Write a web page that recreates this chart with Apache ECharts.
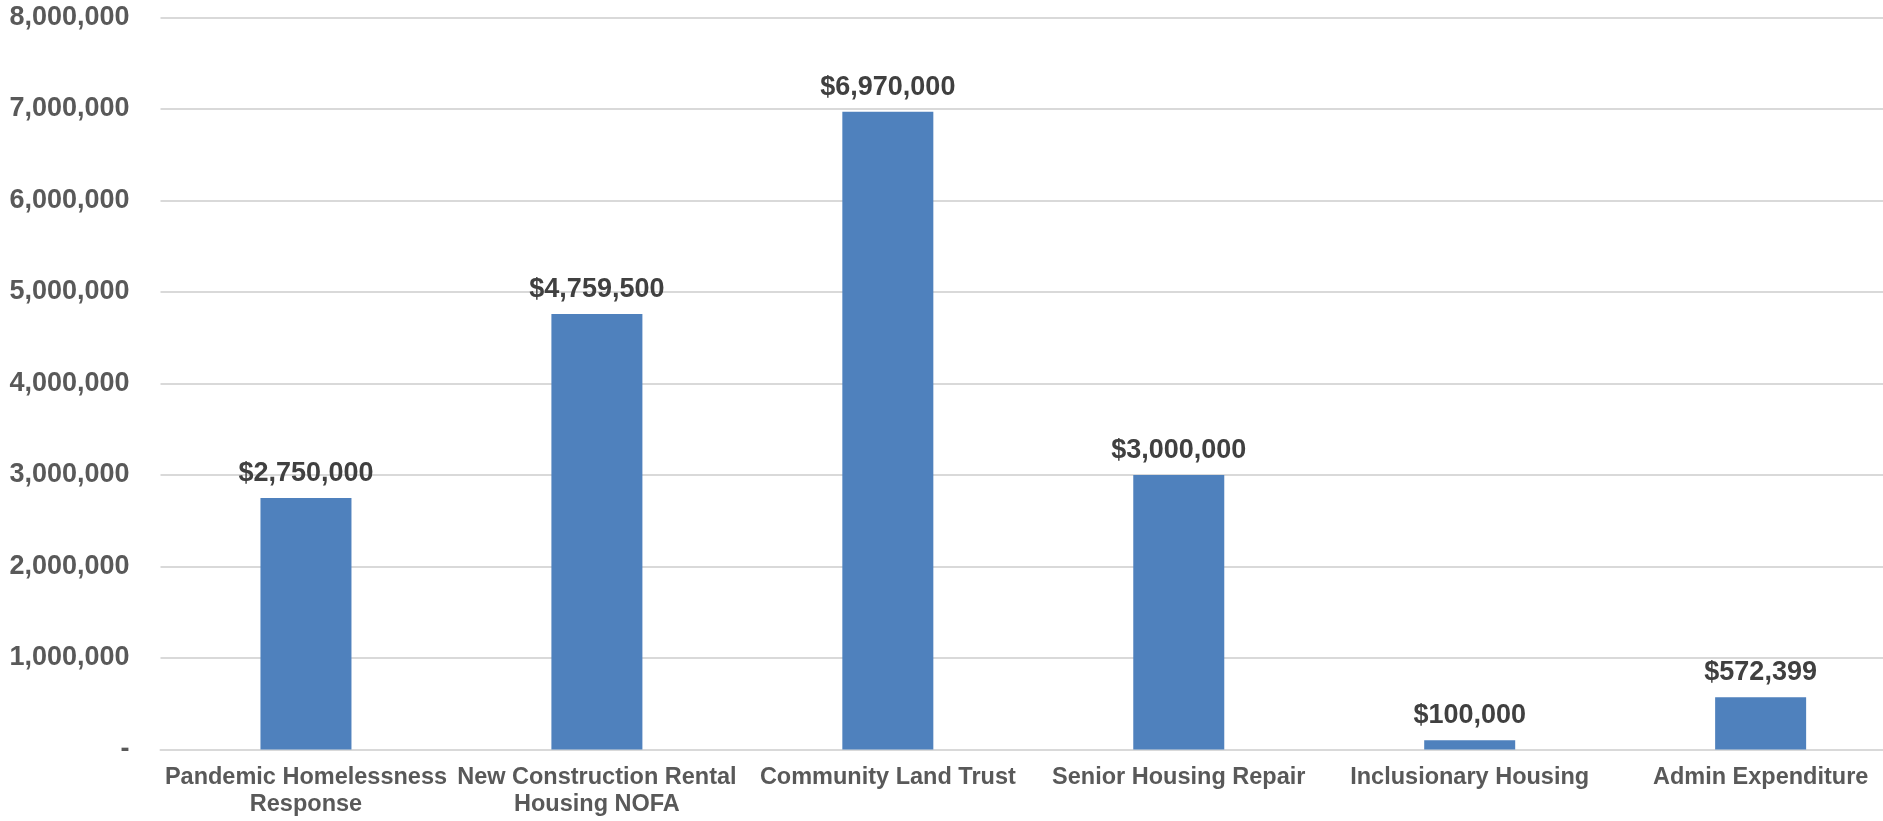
<!DOCTYPE html>
<html>
<head>
<meta charset="utf-8">
<script src="https://cdn.jsdelivr.net/npm/echarts@6/dist/echarts.min.js"></script>
<style>
  html, body { margin: 0; padding: 0; background: #ffffff; }
  #chart { width: 1883px; height: 821px; }
</style>
</head>
<body>
<div id="chart"></div>
<script>
// Program categories (x axis)
const categories = [
  'Pandemic Homelessness\nResponse',
  'New Construction Rental\nHousing NOFA',
  'Community Land Trust',
  'Senior Housing Repair',
  'Inclusionary Housing',
  'Admin Expenditure'
];

// Allocated amounts in dollars
const amounts = [2750000, 4759500, 6970000, 3000000, 100000, 572399];

// Y axis range and tick step
const yMin = 0;
const yMax = 8000000;
const yStep = 1000000;

const withCommas = v => Math.round(v).toString().replace(/\B(?=(\d{3})+(?!\d))/g, ',');

const chart = echarts.init(document.getElementById('chart'), null, { renderer: 'canvas' });

chart.setOption({
  animation: false,
  backgroundColor: '#ffffff',
  grid: {
    left: 160.5,
    top: 17.5,
    width: 1745.6,
    height: 732,
    containLabel: false,
    outerBoundsMode: 'none'
  },
  xAxis: {
    type: 'category',
    data: categories,
    axisLine: { show: true, lineStyle: { color: '#d9d9d9', width: 2 } },
    axisTick: { show: false },
    axisLabel: {
      interval: 0,
      margin: 14,
      color: '#595959',
      fontFamily: 'Liberation Sans, Arial, sans-serif',
      fontWeight: 'bold',
      fontSize: 23.5,
      lineHeight: 27.5,
      align: 'center'
    }
  },
  yAxis: {
    type: 'value',
    min: yMin,
    max: yMax,
    interval: yStep,
    axisLine: { show: false },
    axisTick: { show: false },
    splitLine: { show: true, lineStyle: { color: '#d9d9d9', width: 2 } },
    axisLabel: {
      margin: 31,
      color: '#595959',
      fontFamily: 'Liberation Sans, Arial, sans-serif',
      fontWeight: 'bold',
      fontSize: 27,
      formatter: v => (v === 0 ? '-' : withCommas(v))
    }
  },
  series: [{
    type: 'bar',
    data: amounts,
    barWidth: 91,
    itemStyle: { color: '#4f81bd' },
    label: {
      show: true,
      position: 'top',
      distance: 11,
      color: '#404040',
      fontFamily: 'Liberation Sans, Arial, sans-serif',
      fontWeight: 'bold',
      fontSize: 27,
      formatter: p => '$' + withCommas(p.value)
    }
  }]
});
</script>
</body>
</html>
